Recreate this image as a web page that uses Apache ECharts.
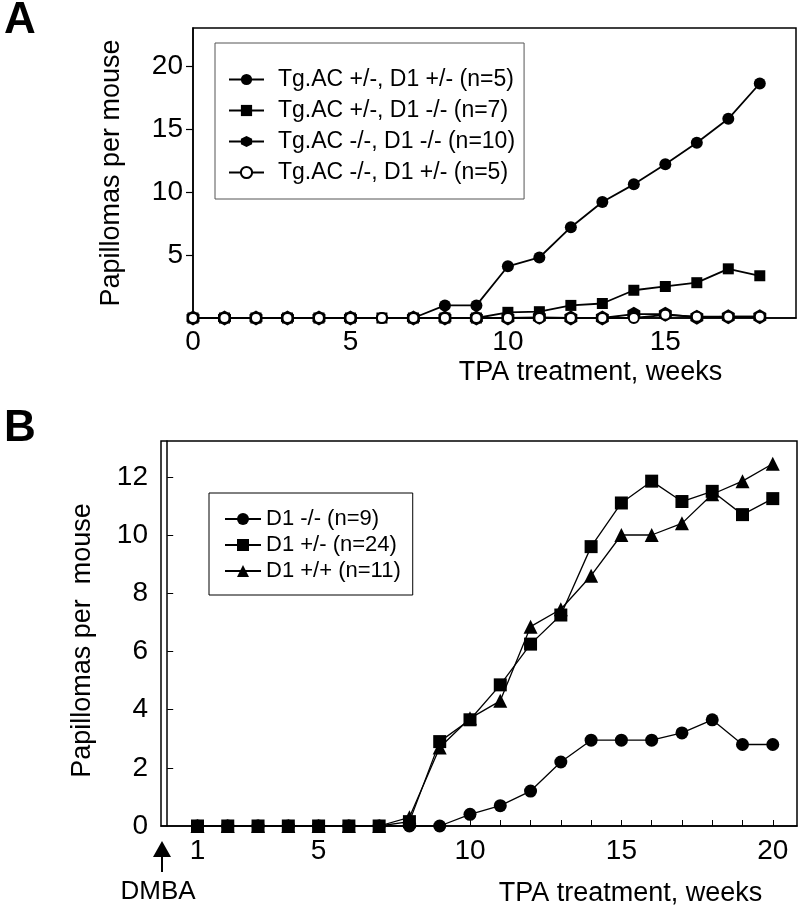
<!DOCTYPE html>
<html>
<head>
<meta charset="utf-8">
<script src="https://cdn.jsdelivr.net/npm/echarts@6/dist/echarts.min.js"></script>
<style>
html,body{margin:0;padding:0;background:#fff;}
#chart{width:800px;height:910px;}
</style>
</head>
<body>
<div id="chart"></div>
<script>
// ---------- Panel A data ----------
const weeksA = [0,1,2,3,4,5,6,7,8,9,10,11,12,13,14,15,16,17,18];
const tgHetD1Het   = [0,0,0,0,0,0,0,0,1.0,1.0,4.1,4.8,7.2,9.2,10.6,12.2,13.9,15.8,18.6];
const tgHetD1Null  = [0,0,0,0,0,0,0,0,0,0,0.45,0.5,1.0,1.15,2.2,2.5,2.8,3.9,3.35];
const tgNullD1Null = [0,0,0,0,0,0,null,0,0,0,0,0.05,0,0,0.3,0.3,0.05,0.1,0.1];
const tgNullD1Het  = [0,0,0,0,0,0,0,0,0,0,0,0,0,0,0,0.25,0.1,0.1,0.1];
const namesA = ['Tg.AC +/-, D1 +/- (n=5)','Tg.AC +/-, D1 -/- (n=7)','Tg.AC -/-, D1 -/- (n=10)','Tg.AC -/-, D1 +/- (n=5)'];
const xLabelsA = [0,5,10,15];
const yLabelsA = [5,10,15,20];

// ---------- Panel B data ----------
const weeksB = [1,2,3,4,5,6,7,8,9,10,11,12,13,14,15,16,17,18,19,20];
const d1Null = [0,0,0,0,0,0,0,0,0,0.4,0.7,1.2,2.2,2.95,2.95,2.95,3.2,3.65,2.8,2.8];
const d1Het  = [0,0,0,0,0,0,0,0.15,2.9,3.65,4.85,6.25,7.25,9.6,11.1,11.85,11.15,11.5,10.7,11.25];
const d1WT   = [0,0,0,0,0,0,0,0.3,2.7,3.7,4.3,6.85,7.45,8.6,10.0,10.0,10.4,11.4,11.85,12.45];
const namesB = ['D1 -/- (n=9)','D1 +/- (n=24)','D1 +/+ (n=11)'];
const xLabelsB = [1,5,10,15,20];
const xTicksB = weeksB;
const yLabelsB = [0,2,4,6,8,10,12];

const FONT = 'Liberation Sans, Arial, Helvetica, sans-serif';
const hexagon = 'path://M0,-10 L8.66,-5 L8.66,5 L0,10 L-8.66,5 L-8.66,-5 Z';

function pairs(xs, ys){ return xs.map((x,i)=>[x, ys[i]]); }

const chart = echarts.init(document.getElementById('chart'), null, {renderer:'canvas'});

function lineSeries(name, xs, ys, gi, symbol, size, fill, lw){
  return {
    type:'line', name, xAxisIndex:gi, yAxisIndex:gi,
    data:pairs(xs, ys), symbol, symbolSize:size, symbolKeepAspect:true,
    showAllSymbol:true, connectNulls:true, animation:false, clip:false,
    lineStyle:{color:'#000', width:lw},
    itemStyle:{color:fill, borderColor:'#000', borderWidth: fill==='#fff'?2:0},
    emphasis:{disabled:true}
  };
}

const option = {
  backgroundColor:'#fff',
  animation:false,
  textStyle:{fontFamily:FONT, color:'#000'},
  title:[
    {text:'A', left:4, top:-1, padding:0, textStyle:{fontFamily:FONT, fontSize:44, fontWeight:'bold', color:'#000'}},
    {text:'B', left:4, top:407, padding:0, textStyle:{fontFamily:FONT, fontSize:44, fontWeight:'bold', color:'#000'}}
  ],
  grid:[
    {left:193, top:28, width:603, height:290, show:true, borderColor:'#000', borderWidth:1.5, containLabel:false},
    {left:161, top:441, width:636, height:385, show:true, borderColor:'#000', borderWidth:1.5, containLabel:false}
  ],
  legend:[
    {
      data:namesA, orient:'vertical', left:215, top:43,
      padding:[25,9,15,13], itemGap:8, itemWidth:35, itemHeight:14,
      borderColor:'#555', borderWidth:1, backgroundColor:'#fff',
      selectedMode:false,
      textStyle:{fontFamily:FONT, fontSize:23, color:'#000', padding:[0,0,0,9]}
    },
    {
      data:namesB, orient:'vertical', left:209, top:493,
      padding:[15,12,13,15], itemGap:4, itemWidth:36, itemHeight:15,
      borderColor:'#000', borderWidth:1, backgroundColor:'#fff',
      selectedMode:false,
      textStyle:{fontFamily:FONT, fontSize:22, color:'#000'}
    }
  ],
  xAxis:[
    {
      type:'value', gridIndex:0, min:0, max:19.15,
      axisLine:{lineStyle:{color:'#000', width:1.5}},
      axisTick:{show:false},
      splitLine:{show:false},
      axisLabel:{customValues:xLabelsA, fontSize:28, color:'#000', fontFamily:FONT, margin:10},
      name:'TPA treatment, weeks', nameLocation:'middle', nameGap:41,
      nameTextStyle:{fontSize:27, color:'#000', fontFamily:FONT, padding:[0,0,0,192]}
    },
    {
      type:'value', gridIndex:1, min:-0.205, max:20.8,
      axisLine:{lineStyle:{color:'#000', width:1.5}},
      axisTick:{customValues:xTicksB, inside:true, length:6, lineStyle:{color:'#000', width:1}},
      splitLine:{show:false},
      axisLabel:{customValues:xLabelsB, fontSize:28, color:'#000', fontFamily:FONT, margin:11},
      name:'TPA treatment, weeks', nameLocation:'middle', nameGap:54,
      nameTextStyle:{fontSize:27, color:'#000', fontFamily:FONT, padding:[0,0,0,303]}
    }
  ],
  yAxis:[
    {
      type:'value', gridIndex:0, min:0, max:23,
      axisLine:{lineStyle:{color:'#000', width:1.5}},
      axisTick:{customValues:yLabelsA, inside:false, length:7, lineStyle:{color:'#000', width:1.2}},
      splitLine:{show:false},
      axisLabel:{customValues:yLabelsA, fontSize:28, color:'#000', fontFamily:FONT, margin:10},
      name:'Papillomas per mouse', nameLocation:'middle', nameGap:68,
      nameTextStyle:{fontSize:27, color:'#000', fontFamily:FONT}
    },
    {
      type:'value', gridIndex:1, min:0, max:13.23,
      axisLine:{lineStyle:{color:'#000', width:1.5}},
      axisTick:{customValues:[2,4,6,8,10,12], inside:true, length:6, lineStyle:{color:'#000', width:1}},
      splitLine:{show:false},
      axisLabel:{customValues:yLabelsB, fontSize:28, color:'#000', fontFamily:FONT, margin:13},
      name:'Papillomas per  mouse', nameLocation:'middle', nameGap:65,
      nameTextStyle:{fontSize:27, color:'#000', fontFamily:FONT, padding:[0,14,0,0]}
    }
  ],
  series:[
    lineSeries(namesA[0], weeksA, tgHetD1Het, 0, 'circle', 12, '#000', 1.8),
    lineSeries(namesA[1], weeksA, tgHetD1Null, 0, 'rect', 11, '#000', 1.8),
    lineSeries(namesA[2], weeksA, tgNullD1Null, 0, hexagon, 15, '#000', 1.8),
    lineSeries(namesA[3], weeksA, tgNullD1Het, 0, 'circle', 10, '#fff', 1.8),
    lineSeries(namesB[0], weeksB, d1Null, 1, 'circle', 13, '#000', 1.3),
    lineSeries(namesB[2], weeksB, d1WT, 1, 'triangle', 14, '#000', 1.3),
    lineSeries(namesB[1], weeksB, d1Het, 1, 'rect', 13, '#000', 1.3)
  ],
  graphic:[
    {type:'polygon', shape:{points:[[162,841],[171,857],[153,857]]}, style:{fill:'#000'}},
    {type:'line', shape:{x1:162, y1:856, x2:162, y2:872}, style:{stroke:'#000', lineWidth:2}},
    {type:'text', x:158, y:892, style:{text:'DMBA', font:'26px '+FONT, fill:'#000', align:'center', verticalAlign:'middle'}}
  ]
};
chart.setOption(option);
</script>
</body>
</html>
